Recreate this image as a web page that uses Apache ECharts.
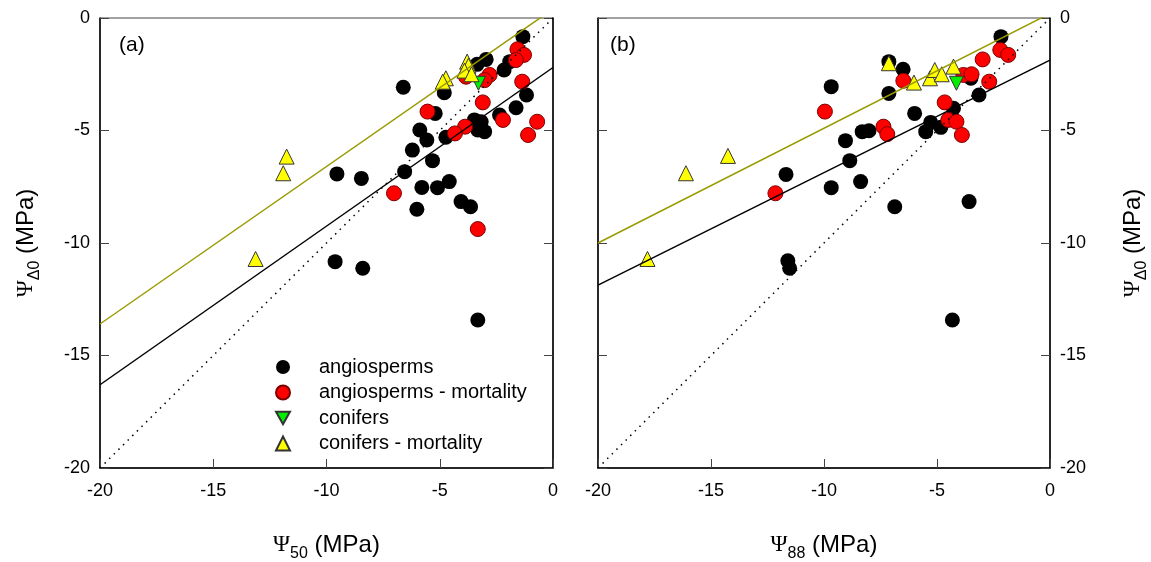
<!DOCTYPE html>
<html>
<head>
<meta charset="utf-8">
<script src="https://cdn.jsdelivr.net/npm/echarts@6/dist/echarts.min.js"></script>
<style>
  html, body { margin: 0; padding: 0; background: #fff; }
  #chart { width: 1151px; height: 562px; }
</style>
</head>
<body>
<div id="chart"></div>
<script>
// panel (a): Psi50 vs PsiDelta0
var angioA = [[-1.33,-0.83],[-2.95,-1.84],[-3.35,-2.06],[-2.16,-2.31],[-1.91,-1.94],[-4.8,-3.32],[-6.61,-3.08],[-1.17,-3.42],[-1.63,-3.99],[-5.2,-4.24],[-2.36,-4.31],[-3.47,-4.53],[-3.17,-4.61],[-3.32,-4.98],[-3.02,-5.05],[-4.73,-5.3],[-5.88,-4.98],[-5.57,-5.42],[-6.21,-5.87],[-5.32,-6.34],[-6.55,-6.83],[-9.54,-6.93],[-8.46,-7.13],[-5.79,-7.53],[-5.1,-7.54],[-4.58,-7.27],[-4.06,-8.16],[-3.64,-8.39],[-6.01,-8.5],[-9.62,-10.83],[-8.4,-11.12],[-3.32,-13.42]];
var angioMortA = [[-1.57,-1.39],[-1.28,-1.64],[-1.64,-1.87],[-2.8,-2.53],[-3.02,-2.76],[-3.84,-2.61],[-1.36,-2.83],[-3.1,-3.75],[-5.54,-4.16],[-2.21,-4.53],[-0.7,-4.61],[-1.1,-5.2],[-3.88,-4.83],[-4.33,-5.13],[-7.02,-7.79],[-3.32,-9.38]];
var conifA = [[-3.29,-2.9]];
var conifMortA = [[-3.79,-1.94],[-3.73,-2.12],[-3.91,-2.34],[-3.6,-2.5],[-4.73,-2.68],[-4.87,-2.83],[-11.76,-6.16],[-11.91,-6.9],[-13.13,-10.71]];
var fitAllA = [[-20,-16.3],[0,-2.2]];
var fitConifA = [[-20,-13.6],[0,0.4]];

// panel (b): Psi88 vs PsiDelta0
var angioB = [[-2.17,-0.83],[-7.13,-1.94],[-6.5,-2.28],[-3.5,-2.68],[-3.14,-3.42],[-9.68,-3.05],[-7.13,-3.35],[-4.27,-4.01],[-5.99,-4.24],[-5.28,-4.64],[-5.5,-5.05],[-4.83,-4.86],[-8.31,-5.05],[-8.01,-5.01],[-9.05,-5.45],[-8.86,-6.34],[-9.68,-7.54],[-8.38,-7.27],[-6.87,-8.39],[-3.58,-8.16],[-11.68,-6.95],[-11.6,-10.79],[-11.52,-11.12],[-4.32,-13.42]];
var angioMortB = [[-2.2,-1.42],[-1.85,-1.64],[-2.98,-1.84],[-6.49,-2.79],[-3.83,-2.53],[-3.47,-2.5],[-2.69,-2.83],[-9.96,-4.16],[-4.66,-3.75],[-4.5,-4.53],[-4.14,-4.61],[-3.9,-5.2],[-7.37,-4.83],[-7.2,-5.16],[-12.15,-7.79]];
var conifB = [[-4.14,-2.9]];
var conifMortB = [[-7.13,-2.01],[-6.02,-2.87],[-5.31,-2.68],[-5.1,-2.31],[-4.79,-2.5],[-4.27,-2.16],[-16.11,-6.9],[-14.25,-6.13],[-17.81,-10.71]];
var fitAllB = [[-20,-11.87],[0,-1.87]];
var fitConifB = [[-20,-10],[0,0.2]];

var oneToOne = [[-20,-20],[0,0]];
var groupNames = ['angiosperms', 'angiosperms - mortality', 'conifers', 'conifers - mortality'];

var chart = echarts.init(document.getElementById('chart'));

var labelFont = { color: '#000', fontSize: 18, fontFamily: 'Liberation Sans, Arial' };
var nameRich = {
    psi: { fontFamily: 'Liberation Serif, Times New Roman', fontSize: 23, color: '#000', lineHeight: 34 },
    sub: { fontFamily: 'Liberation Sans, Arial', fontSize: 16, color: '#000', lineHeight: 34, verticalAlign: 'bottom' },
    txt: { fontFamily: 'Liberation Sans, Arial', fontSize: 24, color: '#000', lineHeight: 34 }
};

function xAx(idx, sub) {
    return {
        gridIndex: idx, type: 'value', min: -20, max: 0, interval: 5, position: 'bottom',
        axisLine: { onZero: false, lineStyle: { color: '#000', width: 1.5 } },
        axisTick: { inside: true, length: 9, lineStyle: { color: '#444' } },
        axisLabel: Object.assign({ margin: 14 }, labelFont),
        splitLine: { show: false },
        name: '{psi|Ψ}{sub|' + sub + '}{txt| (MPa)}',
        nameLocation: 'middle', nameGap: 60,
        nameTextStyle: { rich: nameRich }
    };
}
function yAx(idx, pos, withLabel) {
    var a = {
        gridIndex: idx, type: 'value', min: -20, max: 0, interval: 5, position: pos,
        axisLine: { show: true, onZero: false, lineStyle: { color: '#000', width: 1.5 } },
        axisTick: { show: true, inside: true, length: 9, lineStyle: { color: '#444' } },
        axisLabel: Object.assign({ show: withLabel, margin: 10 }, labelFont),
        splitLine: { show: false }
    };
    if (withLabel) {
        a.name = '{psi|Ψ}{sub|Δ0}{txt| (MPa)}';
        a.nameLocation = 'middle';
        a.nameGap = pos === 'left' ? 57 : 66;
        a.nameRotate = 90;
        a.nameTextStyle = { rich: nameRich };
    }
    return a;
}

function pts(name, data, xi, yi, symbol, size, color, border) {
    return {
        name: name, type: 'scatter', xAxisIndex: xi, yAxisIndex: yi, data: data,
        symbol: symbol, symbolSize: size,
        itemStyle: { color: color, borderColor: border, borderWidth: border ? 1 : 0, opacity: 1 },
        emphasis: { disabled: true }
    };
}
function ln(data, xi, yi, color, type, width) {
    return {
        type: 'line', xAxisIndex: xi, yAxisIndex: yi, data: data, symbol: 'none',
        lineStyle: { color: color, type: type, width: width }, clip: true, silent: true
    };
}

var downTri = 'path://M0,0 L10,0 L5,9 Z';
var olive = '#999a00';

chart.setOption({
    animation: false,
    grid: [
        { left: 100, top: 18, width: 453, height: 450, outerBoundsMode: 'none', containLabel: false, show: true, borderColor: '#444', borderWidth: 1 },
        { left: 598, top: 18, width: 452, height: 450, outerBoundsMode: 'none', containLabel: false, show: true, borderColor: '#444', borderWidth: 1 }
    ],
    xAxis: [xAx(0, '50'), xAx(1, '88')],
    yAxis: [yAx(0, 'left', true), yAx(0, 'right', false), yAx(1, 'left', false), yAx(1, 'right', true)],
    legend: {
        data: groupNames.map(function (n) { return { name: n }; }),
        orient: 'vertical', left: 270, top: 352, itemGap: 5.5, itemWidth: 14, itemHeight: 14,
        textStyle: { fontSize: 20, lineHeight: 20, color: '#000', fontFamily: 'Liberation Sans, Arial', padding: [0, 0, 0, 24] },
        selectedMode: false
    },
    graphic: [
        { type: 'text', left: 119, top: 35, style: { text: '(a)', fontSize: 21, fill: '#000', fontFamily: 'Liberation Sans, Arial' } },
        { type: 'text', left: 610, top: 35, style: { text: '(b)', fontSize: 21, fill: '#000', fontFamily: 'Liberation Sans, Arial' } }
    ],
    series: [
        ln(oneToOne, 0, 0, '#000', [1.5, 5], 1.5),
        ln(fitAllA, 0, 0, '#000', 'solid', 1.5),
        ln(fitConifA, 0, 0, olive, 'solid', 1.5),
        pts(groupNames[0], angioA, 0, 0, 'circle', 15, '#000', null),
        pts(groupNames[1], angioMortA, 0, 0, 'circle', 15, '#ff0000', '#7a0000'),
        pts(groupNames[2], conifA, 0, 0, downTri, 14, '#00ee00', '#333'),
        pts(groupNames[3], conifMortA, 0, 0, 'triangle', 15, '#ffff00', '#333'),

        ln(oneToOne, 1, 3, '#000', [1.5, 5], 1.5),
        ln(fitAllB, 1, 3, '#000', 'solid', 1.5),
        ln(fitConifB, 1, 3, olive, 'solid', 1.5),
        pts(groupNames[0], angioB, 1, 3, 'circle', 15, '#000', null),
        pts(groupNames[1], angioMortB, 1, 3, 'circle', 15, '#ff0000', '#7a0000'),
        pts(groupNames[2], conifB, 1, 3, downTri, 14, '#00ee00', '#333'),
        pts(groupNames[3], conifMortB, 1, 3, 'triangle', 15, '#ffff00', '#333')
    ]
});
</script>
</body>
</html>
